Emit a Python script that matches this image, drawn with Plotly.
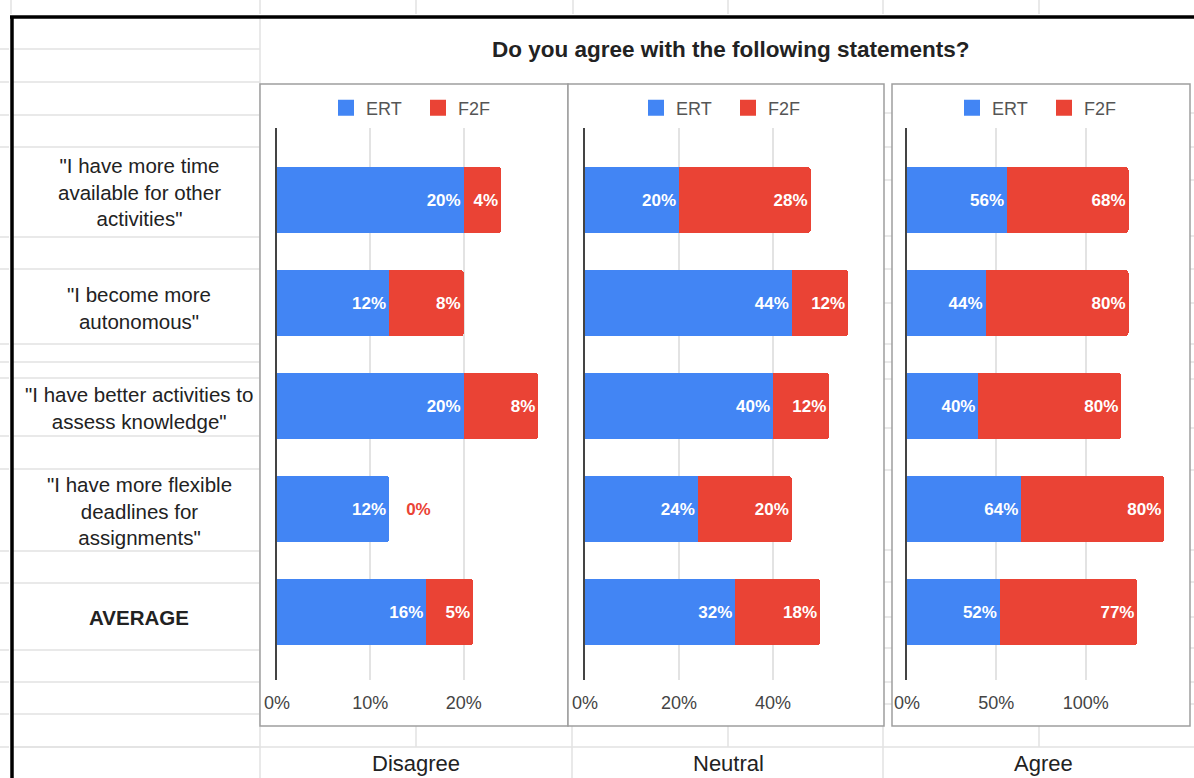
import plotly.graph_objects as go

# ---------------- data ----------------
statements = [
    '"I have more time<br>available for other<br>activities"',
    '"I become more<br>autonomous"',
    '"I have better activities to<br>assess knowledge"',
    '"I have more flexible<br>deadlines for<br>assignments"',
    '<b>AVERAGE</b>',
]
groups = ["Disagree", "Neutral", "Agree"]
series_names = ["ERT", "F2F"]

ert_disagree = [0.20, 0.12, 0.20, 0.12, 0.16]
f2f_disagree = [0.04, 0.08, 0.08, 0.00, 0.05]
ert_neutral = [0.20, 0.44, 0.40, 0.24, 0.32]
f2f_neutral = [0.28, 0.12, 0.12, 0.20, 0.18]
ert_agree = [0.56, 0.44, 0.40, 0.64, 0.52]
f2f_agree = [0.68, 0.80, 0.80, 0.80, 0.77]

tick_vals = [[0, 0.1, 0.2, 0.3], [0, 0.2, 0.4, 0.6], [0, 0.5, 1.0, 1.5]]
tick_text = [["0%", "10%", "20%", ""], ["0%", "20%", "40%", ""], ["0%", "50%", "100%", ""]]
x_ranges = [[0, 0.30], [0, 0.60], [0, 1.50]]

title_text = "Do you agree with the following statements?"

# ---------------- styling / geometry ----------------
W, H = 1194, 778
BLUE = "#4285F4"
RED = "#EA4335"
FONT = "Liberation Sans, Arial, sans-serif"


def px(p):
    return p / W


def py(p):
    return 1 - p / H


plot_x = [(277, 557), (585, 867), (907, 1175)]
panel_x = [(260, 568), (568, 884), (892, 1190)]
legend_cx = [418, 728, 1044]
panel_top, panel_bot = 84, 726
plot_top, plot_bot = 128, 680
label_yshift = [8, -5, -2, -2, -5]  # spreadsheet cell centres vs bar centres

fig = go.Figure()

data = [(ert_disagree, f2f_disagree), (ert_neutral, f2f_neutral), (ert_agree, f2f_agree)]
for i, (ert, f2f) in enumerate(data):
    xa = "x" if i == 0 else f"x{i+1}"
    ya = "y" if i == 0 else f"y{i+1}"
    lg = "legend" if i == 0 else f"legend{i+1}"
    for name, vals, color in [("ERT", ert, BLUE), ("F2F", f2f, RED)]:
        positions = ["outside" if v == 0 else "inside" for v in vals]
        templates = ["   %{x:.0%}" if v == 0 else "%{x:.0%}" for v in vals]
        fig.add_trace(go.Bar(
            x=vals, y=statements, orientation="h", name=name,
            marker=dict(color=color, line=dict(width=0)),
            texttemplate=templates, textposition=positions,
            insidetextanchor="end",
            insidetextfont=dict(color="white", size=17, family=FONT, weight="bold"),
            outsidetextfont=dict(color=RED, size=17, family=FONT, weight="bold"),
            cliponaxis=False,
            width=0.64,
            xaxis=xa, yaxis=ya, showlegend=False, legend=lg,
        ))
    # legend entries (square markers)
    for name, color in [("ERT", BLUE), ("F2F", RED)]:
        fig.add_trace(go.Scatter(
            x=[None], y=[None], mode="markers", name=name,
            marker=dict(symbol="square", size=16, color=color),
            xaxis=xa, yaxis=ya, legend=lg, showlegend=True,
        ))

layout = dict(
    width=W, height=H, margin=dict(l=0, r=0, t=0, b=0, pad=0, autoexpand=False),
    paper_bgcolor="white", plot_bgcolor="rgba(0,0,0,0)",
    barmode="stack", barcornerradius=3,
    font=dict(family=FONT, color="#222"),
    showlegend=True,
)

for i in range(3):
    sfx = "" if i == 0 else str(i + 1)
    layout[f"xaxis{sfx}"] = dict(
        domain=[px(plot_x[i][0]), px(plot_x[i][1])],
        range=x_ranges[i], anchor=f"y{sfx}",
        tickvals=tick_vals[i], ticktext=tick_text[i],
        showgrid=True, gridcolor="#e3e3e3", gridwidth=1.5,
        zeroline=False, showline=False, ticks="",
        tickfont=dict(size=18, color="#444", family=FONT),
        ticklabelstandoff=10, fixedrange=True, automargin=False,
    )
    layout[f"yaxis{sfx}"] = dict(
        domain=[py(plot_bot), py(plot_top)],
        anchor=f"x{sfx}", type="category",
        categoryorder="array", categoryarray=statements,
        range=[4.66, -0.70],
        showticklabels=False, ticks="", showgrid=False,
        showline=True, linecolor="#444", linewidth=1.5,
        zeroline=False, fixedrange=True, automargin=False,
    )
    lg = "legend" if i == 0 else f"legend{i+1}"
    layout[lg] = dict(
        orientation="h", xref="paper", yref="paper",
        x=px(legend_cx[i]), xanchor="center",
        y=py(108), yanchor="middle", bgcolor="rgba(0,0,0,0)",
        traceorder="normal", entrywidth=47, entrywidthmode="pixels",
        font=dict(size=18, color="#555", family=FONT),
        itemclick=False, itemdoubleclick=False,
    )

fig.update_layout(**layout)

# ---------------- spreadsheet background ----------------
GRID = "#e2e2e2"
shapes = []
left_rows = [49, 82, 115, 147, 237, 269, 344, 362, 378, 436, 469, 551, 583, 650, 682, 714, 747]
for yy in left_rows:
    shapes.append(dict(type="line", xref="paper", yref="paper", x0=px(12), x1=px(260),
                       y0=py(yy), y1=py(yy), line=dict(color=GRID, width=1.5), layer="below"))
    shapes.append(dict(type="line", xref="paper", yref="paper", x0=0, x1=px(9),
                       y0=py(yy), y1=py(yy), line=dict(color=GRID, width=1.5), layer="below"))
gap_rows = [113, 147, 180, 236, 269, 303, 344, 362, 379, 428, 470, 550, 582, 617, 648, 682, 704]
for yy in gap_rows:
    for (a, b) in [(884, 892), (1190, W)]:
        shapes.append(dict(type="line", xref="paper", yref="paper", x0=px(a), x1=px(b),
                           y0=py(yy), y1=py(yy), line=dict(color=GRID, width=1.5), layer="below"))
# row below charts
shapes.append(dict(type="line", xref="paper", yref="paper", x0=px(12), x1=1,
                   y0=py(747), y1=py(747), line=dict(color=GRID, width=1.5), layer="below"))
# column lines
shapes.append(dict(type="line", xref="paper", yref="paper", x0=px(260), x1=px(260),
                   y0=py(17), y1=0, line=dict(color=GRID, width=1.5), layer="below"))
for xx in [416, 728, 1039]:
    shapes.append(dict(type="line", xref="paper", yref="paper", x0=px(xx), x1=px(xx),
                       y0=py(726), y1=py(747), line=dict(color=GRID, width=1.5), layer="below"))
for xx in [572, 883]:
    shapes.append(dict(type="line", xref="paper", yref="paper", x0=px(xx), x1=px(xx),
                       y0=py(726), y1=0, line=dict(color=GRID, width=1.5), layer="below"))
for xx in [11, 260, 416, 573, 728, 883, 1039]:
    shapes.append(dict(type="line", xref="paper", yref="paper", x0=px(xx), x1=px(xx),
                       y0=1, y1=py(14), line=dict(color=GRID, width=1.5), layer="below"))
# chart panels
for (a, b) in panel_x:
    shapes.append(dict(type="rect", xref="paper", yref="paper", x0=px(a), x1=px(b),
                       y0=py(panel_bot), y1=py(panel_top), fillcolor="white",
                       line=dict(color="#9e9e9e", width=1.5), layer="below"))
# thick black border
shapes.append(dict(type="line", xref="paper", yref="paper", x0=px(10), x1=1,
                   y0=py(17), y1=py(17), line=dict(color="black", width=3.5), layer="above"))
shapes.append(dict(type="line", xref="paper", yref="paper", x0=px(12), x1=px(12),
                   y0=py(16), y1=0, line=dict(color="black", width=3.5), layer="above"))

annotations = [
    dict(text=f"<b>{title_text}</b>", xref="paper", yref="paper", x=px(731), y=py(50),
         showarrow=False, font=dict(size=22.5, color="#222", family=FONT),
         xanchor="center", yanchor="middle"),
]
for s, ys in zip(statements, label_yshift):
    annotations.append(dict(text=s, xref="paper", yref="y", x=px(139), y=s, yshift=ys,
                            showarrow=False, font=dict(size=20.5, color="#222", family=FONT),
                            xanchor="center", yanchor="middle", align="center"))
group_centers = [416, 728, 1043]
for g, c in zip(groups, group_centers):
    annotations.append(dict(text=g, xref="paper", yref="paper", x=px(c), y=py(763),
                            showarrow=False, font=dict(size=22, color="#222", family=FONT),
                            xanchor="center", yanchor="middle"))

fig.update_layout(shapes=shapes, annotations=annotations)

fig.write_html("out.html")
